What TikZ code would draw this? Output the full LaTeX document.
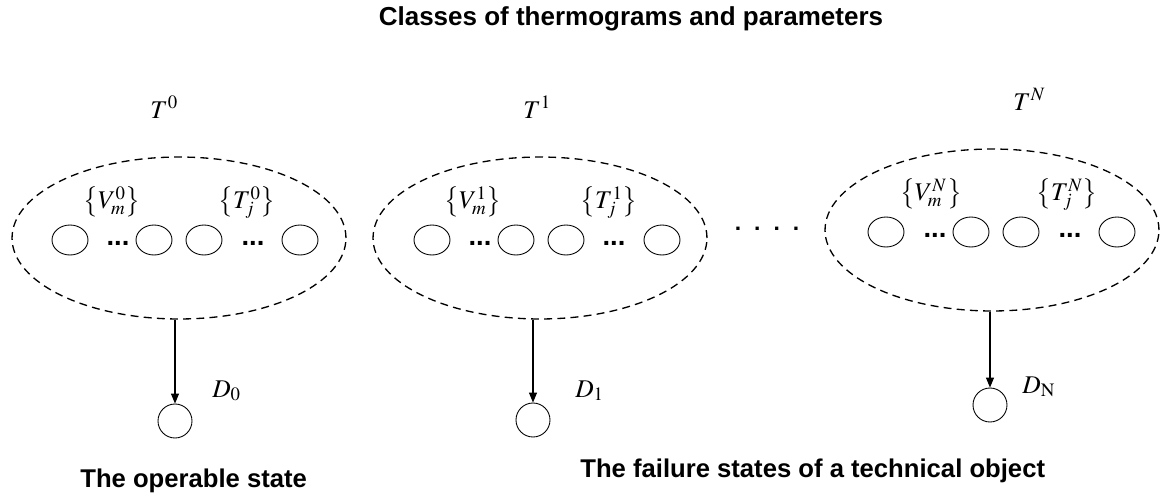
\documentclass[tikz,border=0pt]{standalone}
\usepackage{mathptmx}
\usepackage[no-math]{fontspec}
\setmainfont{Liberation Sans}
\usetikzlibrary{positioning,arrows.meta,shapes.geometric}

\begin{document}
\begin{tikzpicture}[
  x=0.02cm,y=-0.02cm,
  >={Triangle[length=2mm,width=1.6mm]},
  cls/.style={ellipse,draw,dash pattern=on 4.5pt off 3pt,line width=0.75pt,
    minimum width=6.68cm,minimum height=3.24cm,inner sep=0pt},
  prm/.style={ellipse,draw,line width=0.5pt,minimum width=0.72cm,minimum height=0.6cm,inner sep=0pt},
  st/.style={circle,draw,line width=0.5pt,minimum size=0.68cm,inner sep=0pt},
  dots/.style={font=\bfseries\fontsize{15.6}{16}\selectfont,inner sep=0pt},
  sym/.style={font=\fontsize{14.5}{16}\selectfont,inner sep=0pt},
  head/.style={font=\bfseries\fontsize{14.8}{16}\selectfont,inner sep=0pt,anchor=base},
  statetxt/.style={font=\bfseries\fontsize{14.6}{17}\selectfont,inner sep=0pt,anchor=base west}
]
\useasboundingbox (0,0) rectangle (1161,494);
% heading
\node[head] (title) at (631,25) {Classes of thermograms and parameters};
% class T^0
\node[sym,anchor=base west] (t0) at (150,118) {$T^{0}$};
\node[cls] (cls0) at (179,238) {};
\node[sym] (v0) at (112,202) {$\left\{V_m^{0}\right\}$};
\node[sym] (tj0) at (247,202) {$\left\{T_{\smash{j}}^{0}\right\}$};
\node[prm] (a0) at (70,240) {};
\node[dots] (da0) at (118,243) {...};
\node[prm] (b0) at (154,240) {};
\node[prm] (c0) at (204,240) {};
\node[dots] (dc0) at (253,243) {...};
\node[prm] (e0) at (300,240) {};
% class T^1
\node[sym,anchor=base west] (t1) at (523,118) {$T^{1}$};
\node[cls] (cls1) at (540,238) {};
\node[sym] (v1) at (473,202) {$\left\{V_m^{1}\right\}$};
\node[sym] (tj1) at (609,202) {$\left\{T_{\smash{j}}^{1}\right\}$};
\node[prm] (a1) at (432,240) {};
\node[dots] (da1) at (480,243) {...};
\node[prm] (b1) at (516,240) {};
\node[prm] (c1) at (566,240) {};
\node[dots] (dc1) at (614,243) {...};
\node[prm] (e1) at (662,240) {};
% gap between classes
\node[dots,font=\bfseries\fontsize{13}{13}\selectfont] (gap) at (767,229)
  {.\hspace{7.4pt}.\hspace{7.4pt}.\hspace{7.4pt}.};
% class T^N
\node[sym,anchor=base west] (tN) at (1013,110) {$T^{N}$};
\node[cls] (clsN) at (992,230) {};
\node[sym] (vN) at (931,194) {$\left\{V_m^{N}\right\}$};
\node[sym] (tjN) at (1067,194) {$\left\{T_{\smash{j}}^{N}\right\}$};
\node[prm] (aN) at (886,232) {};
\node[dots] (daN) at (935,235) {...};
\node[prm] (bN) at (971,232) {};
\node[prm] (cN) at (1021,232) {};
\node[dots] (dcN) at (1070,235) {...};
\node[prm] (eN) at (1117,232) {};
% diagnoses
\node[st] (d0) at (175,421) {};
\node[sym,anchor=base west] (ld0) at (212,397) {$D_{0}$};
\node[st] (d1) at (533,420) {};
\node[sym,anchor=base west] (ld1) at (575,397) {$D_{1}$};
\node[st] (dN) at (990,405) {};
\node[sym,anchor=base west] (ldN) at (1022,393) {$D_{\mathrm{N}}$};
\draw[->,line width=0.6pt] (cls0.south -| d0) -- (d0);
\draw[->,line width=0.6pt] (cls1.south -| d1) -- (d1);
\draw[->,line width=0.6pt] (clsN.south -| dN) -- (dN);
% states
\node[statetxt] (ok) at (80,487) {The operable state};
\node[statetxt] (fail) at (580,477) {The failure states of a technical object};
\end{tikzpicture}
\end{document}
